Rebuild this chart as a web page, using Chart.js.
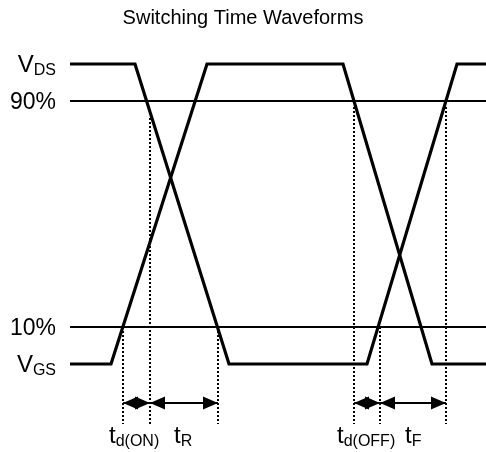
<!DOCTYPE html>
<html>
<head>
<meta charset="utf-8">
<script src="https://cdn.jsdelivr.net/npm/chart.js@4.4.1/dist/chart.umd.min.js"></script>
<style>
    html, body { margin: 0; padding: 0; background: #fff; }
    #wrap { width: 486px; height: 452px; }
</style>
</head>
<body>
<div id="wrap"><canvas id="chart"></canvas></div>
<script>
// time axis in arbitrary units, level axis: 0 = low, 100 = high
const vdsTimes = [0, 16.25, 39.75, 74.25, 96.75, 104];
const vdsLevels = [100, 100, 0, 0, 100, 100];
const vgsTimes = [0, 10.25, 34.25, 68.25, 90.5, 104];
const vgsLevels = [0, 0, 100, 100, 0, 0];

const thresholdLevels = [87.67, 12.33];
const thresholdLabels = ['90%', '10%'];
const traceLabels = [['V', 'DS', 100], ['V', 'GS', 0]];

// dotted drop lines: time, top level
const markerTimes = [13.25, 20, 37, 71, 77.5, 94];
const markerTops = [12.33, 82, 12.33, 85.67, 12.33, 85.67];
const markerBottom = -20;

// interval arrows between marker times
const intervalStarts = [13.25, 20, 71, 77.5];
const intervalEnds = [20, 37, 77.5, 94];
const intervalMain = ['t', 't', 't', 't'];
const intervalSub = ['d(ON)', 'R', 'd(OFF)', 'F'];
const intervalLabelAt = [9.75, 26, 66.75, 83.75];
const arrowLevel = -13;
const labelLevel = -26.3;

const FONT = 'Arial, "Liberation Sans", sans-serif';

function toPoints(xs, ys) {
    return xs.map((x, i) => ({ x: x, y: ys[i] }));
}

const datasets = [
    { data: toPoints(vdsTimes, vdsLevels), borderWidth: 3.2 },
    { data: toPoints(vgsTimes, vgsLevels), borderWidth: 3.2 }
];

thresholdLevels.forEach(lv => {
    datasets.push({ data: [{ x: 0, y: lv }, { x: 104, y: lv }], borderWidth: 1.8 });
});

markerTimes.forEach((t, i) => {
    datasets.push({
        data: [{ x: t, y: markerTops[i] }, { x: t, y: markerBottom }],
        borderWidth: 2,
        borderDash: [2, 2]
    });
});

datasets.forEach(ds => {
    ds.showLine = true;
    ds.borderColor = '#000';
    ds.pointRadius = 0;
    ds.tension = 0;
    ds.borderJoinStyle = 'miter';
});

function drawSubText(ctx, x, y, main, sub, mainSize, subSize, align) {
    ctx.font = `${mainSize}px ${FONT}`;
    const wMain = ctx.measureText(main).width;
    ctx.font = `${subSize}px ${FONT}`;
    const wSub = ctx.measureText(sub).width;
    let left = align === 'right' ? x - wMain - wSub : x;
    ctx.textAlign = 'left';
    ctx.font = `${mainSize}px ${FONT}`;
    ctx.fillText(main, left, y);
    ctx.font = `${subSize}px ${FONT}`;
    ctx.fillText(sub, left + wMain, y + 3);
}

function arrowHead(ctx, tipX, y, dir) {
    const len = 15, half = 6.5;
    ctx.beginPath();
    ctx.moveTo(tipX, y);
    ctx.lineTo(tipX + dir * len, y - half);
    ctx.lineTo(tipX + dir * len, y + half);
    ctx.closePath();
    ctx.fill();
}

const annotations = {
    id: 'annotations',
    afterDatasetsDraw(chart) {
        const ctx = chart.ctx;
        const xs = chart.scales.x;
        const ys = chart.scales.y;
        ctx.save();
        ctx.fillStyle = '#000';
        ctx.strokeStyle = '#000';
        ctx.textBaseline = 'alphabetic';

        // left side labels
        const labelRight = xs.getPixelForValue(-3.5);
        thresholdLevels.forEach((lv, i) => {
            ctx.font = `23px ${FONT}`;
            ctx.textAlign = 'right';
            ctx.fillText(thresholdLabels[i], labelRight, ys.getPixelForValue(lv) + 8);
        });
        traceLabels.forEach(l => {
            drawSubText(ctx, labelRight, ys.getPixelForValue(l[2]) + 8, l[0], l[1], 24, 16, 'right');
        });

        // interval arrows
        const ay = ys.getPixelForValue(arrowLevel);
        intervalStarts.forEach((s, i) => {
            const x1 = xs.getPixelForValue(s);
            const x2 = xs.getPixelForValue(intervalEnds[i]);
            ctx.lineWidth = 1.8;
            ctx.beginPath();
            ctx.moveTo(x1, ay);
            ctx.lineTo(x2, ay);
            ctx.stroke();
            arrowHead(ctx, x1, ay, 1);
            arrowHead(ctx, x2, ay, -1);

            drawSubText(ctx, xs.getPixelForValue(intervalLabelAt[i]), ys.getPixelForValue(labelLevel),
                intervalMain[i], intervalSub[i], 24, 16, 'left');
        });
        ctx.restore();
    }
};

new Chart(document.getElementById('chart'), {
    type: 'scatter',
    data: { datasets: datasets },
    options: {
        responsive: true,
        maintainAspectRatio: false,
        animation: false,
        layout: { padding: 0 },
        plugins: {
            legend: { display: false },
            tooltip: { enabled: false },
            title: {
                display: true,
                text: 'Switching Time Waveforms',
                color: '#000',
                font: { family: FONT, size: 20, weight: 'normal' },
                padding: { top: 6, bottom: 0 }
            }
        },
        scales: {
            x: { type: 'linear', display: false, min: -17.5, max: 104 },
            y: { type: 'linear', display: false, min: -29.33, max: 111.33 }
        }
    },
    plugins: [annotations]
});
</script>
</body>
</html>
